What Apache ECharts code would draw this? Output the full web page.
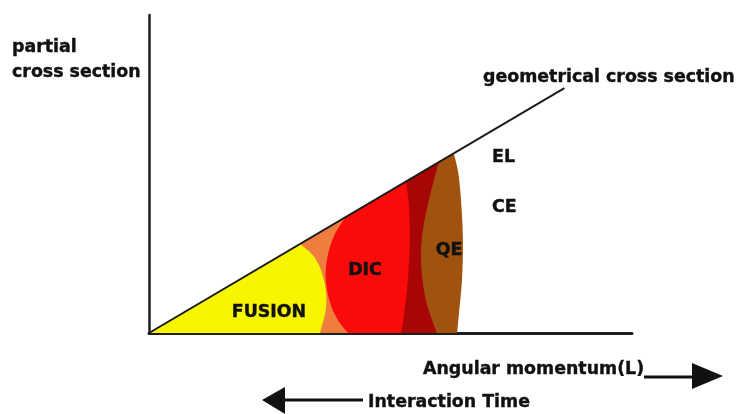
<!DOCTYPE html>
<html><head><meta charset="utf-8">
<script src="https://cdn.jsdelivr.net/npm/echarts@6/dist/echarts.min.js"></script>
<style>html,body{margin:0;padding:0;background:#fff}#chart{width:738px;height:414px}</style>
</head><body><div id="chart"></div>
<script>
// Geometrical cross section: grows linearly with angular momentum L
const geometricLine = [[0, 0], [86, 77]];

// Outer edge of each reaction channel, from the geometrical line down to the L axis
const qeEdge         = [[63.1, 56.5], [64.0, 50.6], [64.6, 41.8], [65.0, 29.2], [64.8, 16.7], [64.2, 6.6], [63.8, 0]];
const darkEdge       = [[60.0, 53.7], [58.2, 43.4], [56.7, 32.4], [56.3, 23.0], [57.1, 11.9], [58.6, 4.1], [59.6, 0]];
const dicEdge        = [[53.2, 47.6], [53.8, 40.3], [54.0, 29.2], [53.6, 16.7], [52.8, 5.7], [52.2, 0]];
const transitionEdge = [[40.6, 36.3], [38.3, 30.5], [36.9, 23.6], [36.6, 16.7], [37.5, 9.4], [39.1, 4.1], [41.2, 0]];
const fusionEdge     = [[31.3, 28.0], [33.9, 24.5], [35.6, 19.8], [36.6, 13.5], [36.6, 7.2], [35.4, 0]];

// Painted back to front: each channel covers the one beyond it
const channelEdges  = [qeEdge, darkEdge, dicEdge, transitionEdge, fusionEdge];
const channelColors = ['#a0520f', '#a80606', '#fb0a0a', '#ef7d3e', '#f7f500'];

const FONT = 'bold 17.4px "DejaVu Sans"';
const INK = '#111111';

function channelItem(params, api) {
  const edge = channelEdges[params.dataIndex];
  const o = api.coord([0, 0]);
  const pts = edge.map(p => api.coord(p));
  let d = 'M' + o[0] + ',' + o[1] + ' L' + pts[0][0] + ',' + pts[0][1];
  // smooth curve through the edge points (Catmull-Rom as cubic Béziers)
  for (let i = 0; i < pts.length - 1; i++) {
    const p0 = pts[i - 1] || pts[i], p1 = pts[i], p2 = pts[i + 1], p3 = pts[i + 2] || pts[i + 1];
    const c1 = [p1[0] + (p2[0] - p0[0]) / 6, p1[1] + (p2[1] - p0[1]) / 6];
    const c2 = [p2[0] - (p3[0] - p1[0]) / 6, p2[1] - (p3[1] - p1[1]) / 6];
    d += ' C' + c1[0] + ',' + c1[1] + ',' + c2[0] + ',' + c2[1] + ',' + p2[0] + ',' + p2[1];
  }
  d += ' Z';
  return { type: 'path', shape: { pathData: d }, style: { fill: channelColors[params.dataIndex] } };
}

function txt(text, x, y, align) {
  return { type: 'text', z: 100, style: {
    text: text, x: x, y: y, font: FONT, fill: INK, stroke: INK, lineWidth: 0.4,
    align: align || 'left', verticalAlign: 'middle'
  } };
}

const chart = echarts.init(document.getElementById('chart'), null, { renderer: 'canvas' });
chart.setOption({
  animation: false,
  backgroundColor: '#fff',
  grid: { left: 149, right: 106, top: 15, bottom: 81 },
  xAxis: {
    type: 'value', min: 0, max: 100,
    axisLine: { show: true, lineStyle: { color: '#1e1e1e', width: 3 } },
    axisTick: { show: false }, axisLabel: { show: false }, splitLine: { show: false }
  },
  yAxis: {
    type: 'value', min: 0, max: 100,
    axisLine: { show: true, lineStyle: { color: '#1e1e1e', width: 2.5 } },
    axisTick: { show: false }, axisLabel: { show: false }, splitLine: { show: false }
  },
  series: [
    {
      type: 'custom', coordinateSystem: 'cartesian2d',
      data: channelEdges.map(() => [0, 0]),
      renderItem: channelItem, clip: false, silent: true, z: 2
    },
    {
      type: 'line', data: geometricLine, symbol: 'none', silent: true, z: 5,
      lineStyle: { color: '#1a1a1a', width: 2 }
    }
  ],
  graphic: [
    txt('partial', 12, 47),
    txt('cross section', 12, 72),
    txt('geometrical cross section', 483, 77),
    txt('EL', 492, 157),
    txt('CE', 492, 207),
    txt('FUSION', 269, 312, 'center'),
    txt('DIC', 365, 270, 'center'),
    txt('QE', 449, 250, 'center'),
    txt('Angular momentum(L)', 423, 369),
    txt('Interaction Time', 368, 402),
    // direction arrows under the L axis
    { type: 'line', z: 100, shape: { x1: 644, y1: 377, x2: 696, y2: 377 }, style: { stroke: INK, lineWidth: 3 } },
    { type: 'polygon', z: 100, shape: { points: [[692, 363], [723, 376], [692, 389]] }, style: { fill: INK } },
    { type: 'line', z: 100, shape: { x1: 280, y1: 400, x2: 363, y2: 400 }, style: { stroke: INK, lineWidth: 3 } },
    { type: 'polygon', z: 100, shape: { points: [[262, 400], [285, 387], [285, 414]] }, style: { fill: INK } }
  ]
});
</script>
</body></html>
